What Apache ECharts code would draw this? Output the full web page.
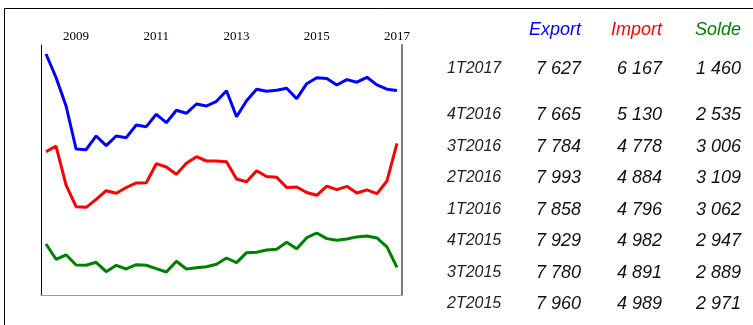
<!DOCTYPE html>
<html>
<head>
<meta charset="utf-8">
<script src="https://cdn.jsdelivr.net/npm/echarts@6/dist/echarts.min.js"></script>
<style>
  html, body { margin: 0; padding: 0; background: #fff; }
  #chart { width: 753px; height: 325px; }
</style>
</head>
<body>
<div id="chart"></div>
<script>
// Quarterly trade figures (millions), 2T2008 .. 1T2017
const quarters = [
  '2T2008','3T2008','4T2008',
  '1T2009','2T2009','3T2009','4T2009',
  '1T2010','2T2010','3T2010','4T2010',
  '1T2011','2T2011','3T2011','4T2011',
  '1T2012','2T2012','3T2012','4T2012',
  '1T2013','2T2013','3T2013','4T2013',
  '1T2014','2T2014','3T2014','4T2014',
  '1T2015','2T2015','3T2015','4T2015',
  '1T2016','2T2016','3T2016','4T2016',
  '1T2017'
];

const exportVals = [8636, 7987, 7200,
  6013, 5993, 6372, 6104,
  6372, 6325, 6676, 6629,
  6971, 6739, 7082, 6999,
  7256, 7200, 7330, 7623,
  6905, 7347, 7662, 7606,
  7634, 7689, 7402, 7816,
  7982, 7960, 7780, 7929,
  7858, 7993, 7784, 7665,
  7627];

const importVals = [5938, 6095, 5018,
  4419, 4402, 4623, 4861,
  4789, 4949, 5074, 5081,
  5607, 5515, 5317, 5618,
  5800, 5681, 5681, 5662,
  5184, 5110, 5413, 5253,
  5231, 4949, 4963, 4811,
  4734, 4989, 4891, 4982,
  4796, 4884, 4778, 5130,
  6167];

const soldeVals = [2688, 1882, 2120,
  1582, 1566, 1724, 1228,
  1566, 1371, 1597, 1566,
  1387, 1213, 1777, 1371,
  1440, 1492, 1619, 1950,
  1703, 2230, 2251, 2372,
  2409, 2778, 2440, 3020,
  3268, 2971, 2889, 2947,
  3062, 3109, 3006, 2535,
  1460];

const seriesNames = ['Export', 'Import', 'Solde'];
const seriesColors = ['#0000ff', '#ff0000', '#008000'];
const tableRowCount = 8;

const chart = echarts.init(document.getElementById('chart'), null, { renderer: 'canvas' });

function fmt(n) {
  return String(n).replace(/\B(?=(\d{3})+(?!\d))/g, ' ');
}

// Side table: most recent quarters first
const graphics = [];
graphics.push({
  type: 'rect',
  shape: { x: 4.5, y: 8.5, width: 800, height: 400 },
  style: { fill: 'none', stroke: '#000', lineWidth: 1 },
  silent: true
});

const colRight = [581, 662, 741];
const labelX = 447;
const headerY = 30;
const sansItalic = 'italic 18px "Liberation Sans", Arial, sans-serif';

seriesNames.forEach((name, c) => {
  graphics.push({
    type: 'text',
    x: colRight[c], y: headerY,
    style: {
      text: name, fill: seriesColors[c], font: sansItalic,
      textAlign: 'right', textVerticalAlign: 'middle'
    }
  });
});

const cols = [exportVals, importVals, soldeVals];
for (let k = 0; k < tableRowCount; k++) {
  const idx = quarters.length - 1 - k;
  const y = k === 0 ? 69 : 115 + (k - 1) * 31.5;
  graphics.push({
    type: 'text',
    x: labelX, y: y,
    style: {
      text: quarters[idx], fill: '#222',
      font: 'italic 16px "Liberation Sans", Arial, sans-serif',
      textAlign: 'left', textVerticalAlign: 'middle'
    }
  });
  cols.forEach((arr, c) => {
    graphics.push({
      type: 'text',
      x: colRight[c], y: y,
      style: {
        text: fmt(arr[idx]), fill: '#111', font: sansItalic,
        textAlign: 'right', textVerticalAlign: 'middle'
      }
    });
  });
}

const option = {
  animation: false,
  backgroundColor: '#fff',
  grid: { left: 41, right: 351, top: 45, bottom: 30, containLabel: false },
  xAxis: [
    {
      type: 'category',
      position: 'top',
      data: quarters,
      boundaryGap: true,
      axisLine: { show: false },
      axisTick: { show: false },
      splitLine: { show: false },
      axisLabel: {
        show: true,
        interval: (i) => i % 8 === 3,
        formatter: (v) => v.slice(2),
        fontFamily: '"Liberation Serif", "Times New Roman", serif',
        fontSize: 13,
        color: '#000',
        margin: 2
      }
    },
    {
      type: 'category',
      position: 'bottom',
      data: quarters,
      boundaryGap: true,
      axisLine: { show: true, onZero: false, lineStyle: { color: '#74b874', width: 1 } },
      axisTick: { show: false },
      axisLabel: { show: false },
      splitLine: { show: false }
    }
  ],
  yAxis: [
    {
      type: 'value',
      position: 'left',
      min: 1980, max: 8885,
      axisLine: { show: true, onZero: false, lineStyle: { color: '#000', width: 1 } },
      axisTick: { show: false },
      axisLabel: { show: false },
      splitLine: { show: false }
    },
    {
      type: 'value',
      position: 'right',
      min: 0, max: 13175,
      axisLine: { show: true, onZero: false, lineStyle: { color: '#7a7a7a', width: 2 } },
      axisTick: { show: false },
      axisLabel: { show: false },
      splitLine: { show: false }
    }
  ],
  series: [
    {
      name: seriesNames[0], type: 'line', data: exportVals,
      xAxisIndex: 0, yAxisIndex: 0,
      symbol: 'none', lineStyle: { color: seriesColors[0], width: 3 }
    },
    {
      name: seriesNames[1], type: 'line', data: importVals,
      xAxisIndex: 0, yAxisIndex: 0,
      symbol: 'none', lineStyle: { color: seriesColors[1], width: 3 }
    },
    {
      name: seriesNames[2], type: 'line', data: soldeVals,
      xAxisIndex: 0, yAxisIndex: 1,
      symbol: 'none', lineStyle: { color: seriesColors[2], width: 3 }
    }
  ],
  graphic: graphics
};

chart.setOption(option);
</script>
</body>
</html>
